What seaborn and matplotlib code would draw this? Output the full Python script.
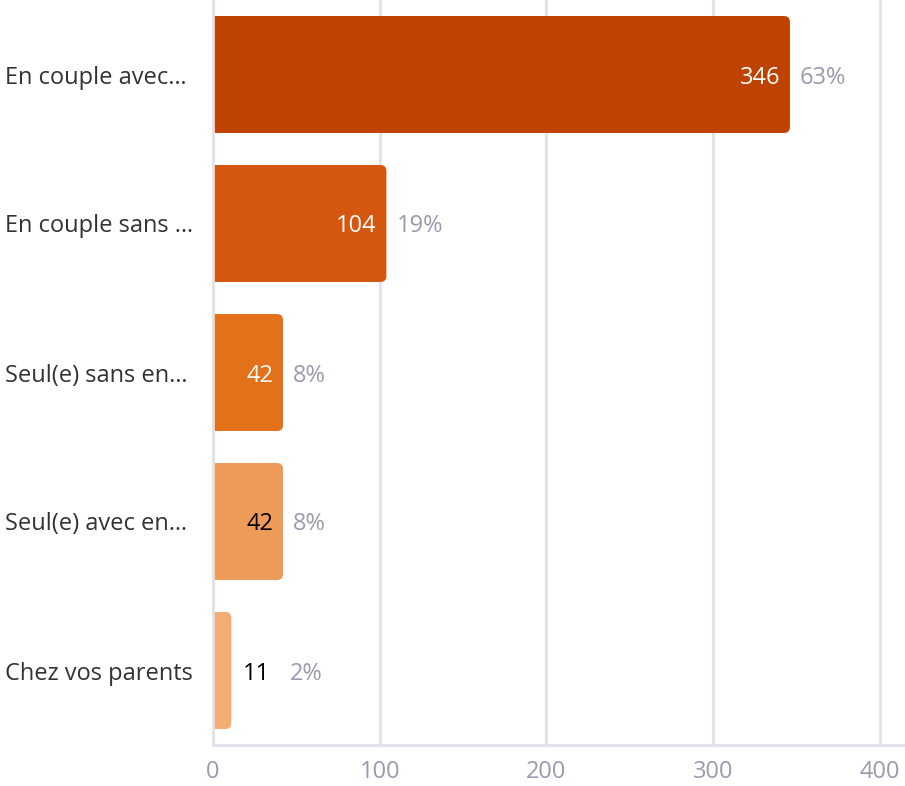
import matplotlib
matplotlib.use('Agg')
import matplotlib.pyplot as plt
from matplotlib.patches import FancyBboxPatch
import seaborn as sns
import pandas as pd

categories = ['En couple avec…', 'En couple sans …', 'Seul(e) sans en…',
              'Seul(e) avec en…', 'Chez vos parents']
counts = [346, 104, 42, 42, 11]
percents = ['63%', '19%', '8%', '8%', '2%']
colors = ['#BE4300', '#D5560F', '#E3711A', '#EE9B59', '#F3AC74']
value_colors = ['white', 'white', 'white', 'black', 'black']

df = pd.DataFrame({'category': categories, 'count': counts})

sns.set_style('white')
plt.rcParams['font.family'] = ['Open Sans', 'DejaVu Sans']

fig = plt.figure(figsize=(9.05, 7.86), dpi=100)
ax = fig.add_axes([213 / 905, 41 / 786, 692 / 905, 745 / 786])

sns.barplot(data=df, y='category', x='count', hue='category', palette=colors,
            saturation=1, legend=False, width=0.785, ax=ax, zorder=3)

# round the bar ends
px_x = 692 / 415
px_y = 149
for patch in list(ax.patches):
    x0, y0 = patch.get_x(), patch.get_y()
    w, h = patch.get_width(), patch.get_height()
    r = 6 / px_x
    fb = FancyBboxPatch((x0 - 10, y0), w + 10, h,
                        boxstyle=f'round,pad=0,rounding_size={r}',
                        mutation_aspect=(px_x / px_y),
                        facecolor=patch.get_facecolor(), edgecolor='none',
                        zorder=3)
    patch.remove()
    ax.add_patch(fb)

ax.set_xlim(0, 415)
ax.set_ylim(4.5, -0.5)
ax.set_xticks([0, 100, 200, 300, 400])
ax.grid(axis='x', color='#E1E1EA', linewidth=2, zorder=0)
ax.grid(axis='y', visible=False)
ax.set_xlabel('')
ax.set_ylabel('')

for s in ['top', 'right']:
    ax.spines[s].set_visible(False)
for s in ['left', 'bottom']:
    ax.spines[s].set_color('#E1E1EA')
    ax.spines[s].set_linewidth(2)
    ax.spines[s].set_zorder(4)

ax.tick_params(axis='x', colors='#E1E1EA', labelcolor='#9A9AB0', labelsize=17,
               length=6, width=2, pad=5)
ax.tick_params(axis='y', colors='#E1E1EA', labelcolor='#333333', labelsize=17,
               length=6, width=2, pad=(206 - 6) * 0.72)
for lbl in ax.get_yticklabels():
    lbl.set_horizontalalignment('left')
    lbl.set_verticalalignment('center_baseline')

for i, (c, p) in enumerate(zip(counts, percents)):
    if c > 30:
        ax.text(c - 6, i, str(c), color=value_colors[i], fontsize=17,
                ha='right', va='center_baseline', zorder=5)
        ax.text(c + 6, i, p, color='#9A9AB0', fontsize=17,
                ha='left', va='center_baseline', zorder=5)
    else:
        ax.text(18, i, str(c), color=value_colors[i], fontsize=17,
                ha='left', va='center_baseline', zorder=5)
        ax.text(46, i, p, color='#9A9AB0', fontsize=17,
                ha='left', va='center_baseline', zorder=5)

fig.savefig('out.png', dpi=100)
